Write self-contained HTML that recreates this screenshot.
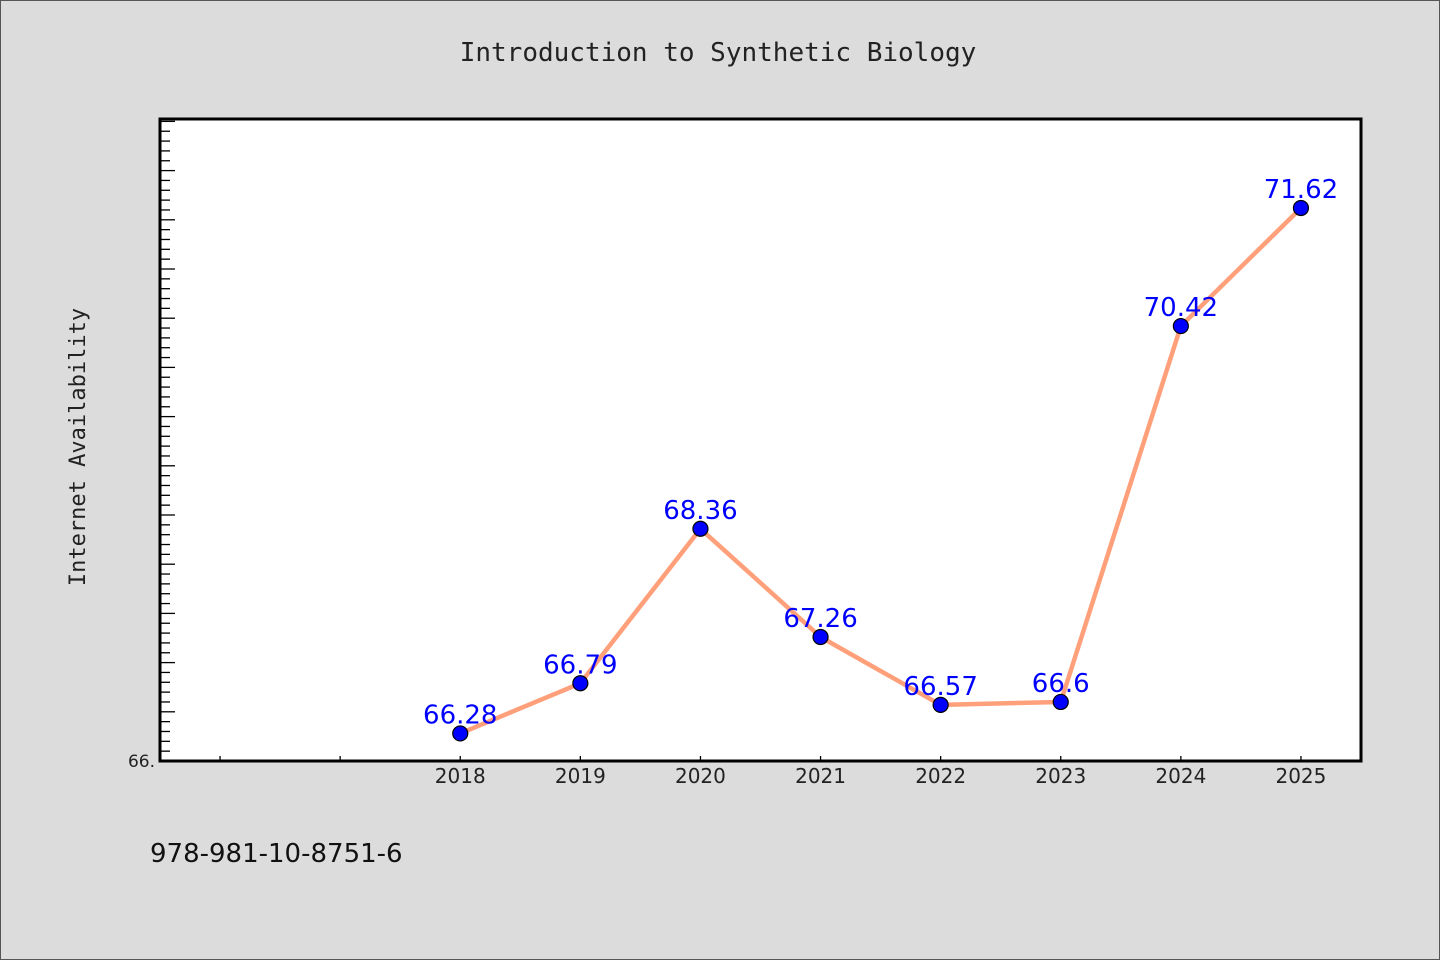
<!DOCTYPE html>
<html><head><meta charset="utf-8"><style>
html,body{margin:0;padding:0;background:#dcdcdc}
svg{display:block}
</style></head><body>
<svg width="1440" height="960" viewBox="0 0 1440 960" id="chart">
<rect x="0.5" y="0.5" width="1439" height="959" fill="#dcdcdc" stroke="#555"/>
<text x="718" y="61" text-anchor="middle" font-family="'DejaVu Sans Mono','Liberation Mono',monospace" font-size="26" fill="#222">Introduction to Synthetic Biology</text>
<rect x="160" y="119" width="1201" height="642" fill="#fff"/>
<g id="yticks"></g>
<g id="xticks"></g>
<g id="series"></g>
<rect x="160" y="119" width="1201" height="642" fill="none" stroke="#000" stroke-width="3"/>
<text x="155" y="767" text-anchor="end" font-family="'DejaVu Sans','Liberation Sans',sans-serif" font-size="17" fill="#222">66.</text>
<text transform="translate(85,447) rotate(-90)" text-anchor="middle" font-family="'DejaVu Sans Mono','Liberation Mono',monospace" font-size="22" fill="#222">Internet Availability</text>
<text x="150" y="862" font-family="'DejaVu Sans','Liberation Sans',sans-serif" font-size="26" fill="#111">978-981-10-8751-6</text>
</svg>
<script>
const categories = [2018, 2019, 2020, 2021, 2022, 2023, 2024, 2025];
const values = [66.28, 66.79, 68.36, 67.26, 66.57, 66.6, 70.42, 71.62];
const valueLabels = ["66.28", "66.79", "68.36", "67.26", "66.57", "66.6", "70.42", "71.62"];
const xTickYears = [2016, 2017, 2018, 2019, 2020, 2021, 2022, 2023, 2024, 2025];

const NS = "http://www.w3.org/2000/svg";
const L = 160, R = 1361, T = 119, B = 761;
const xMin = 2015.5, xMax = 2025.5, yMin = 66, yMax = 66 + 642 / 98.4;
function xs(v){ return L + (v - xMin) / (xMax - xMin) * (R - L); }
function ys(v){ return B - (v - yMin) / (yMax - yMin) * (B - T); }
function mk(tag, attrs, parent){ const e = document.createElementNS(NS, tag); for (const k in attrs) e.setAttribute(k, attrs[k]); parent.appendChild(e); return e; }

const yt = document.getElementById('yticks');
for (let i = 1; ; i++) {
  const v = yMin + i * 0.1;
  if (v > yMax) break;
  const y = ys(v);
  const major = i % 5 === 0;
  const t = mk('line', {x1: L, x2: L + (major ? 15 : 10), y1: y, y2: y, stroke: '#000', 'stroke-width': 1.3}, yt);
  
  
}
const xt = document.getElementById('xticks');
xTickYears.forEach(yr => {
  const x = xs(yr);
  const t = mk('line', {x1: x, x2: x, y1: B, y2: B - 5, stroke: '#000', 'stroke-width': 1.3}, xt);
  
  
  if (categories.indexOf(yr) >= 0) {
    const lb = mk('text', {x: x, y: B + 22, 'text-anchor': 'middle', 'font-family': "'DejaVu Sans','Liberation Sans',sans-serif", 'font-size': 20, fill: '#222'}, xt);
    lb.textContent = String(yr);
    
    
  }
});
const s = document.getElementById('series');
const pts = categories.map((c, i) => xs(c) + ',' + ys(values[i])).join(' ');
const line = mk('polyline', {points: pts, fill: 'none', stroke: '#ffa07a', 'stroke-width': 4.5, 'stroke-linejoin': 'round'}, s);


categories.forEach((c, i) => {
  const x = xs(c), y = ys(values[i]);
  const lb = mk('text', {x: x, y: y - 10, 'text-anchor': 'middle', 'font-family': "'DejaVu Sans','Liberation Sans',sans-serif", 'font-size': 26, fill: '#0000ff'}, s);
  lb.textContent = valueLabels[i];
  
  
});
categories.forEach((c, i) => {
  const p = mk('circle', {cx: xs(c), cy: ys(values[i]), r: 7.5, fill: '#0000ff', stroke: '#000', 'stroke-width': 1.2}, s);
  
  
});
</script>
</body></html>
